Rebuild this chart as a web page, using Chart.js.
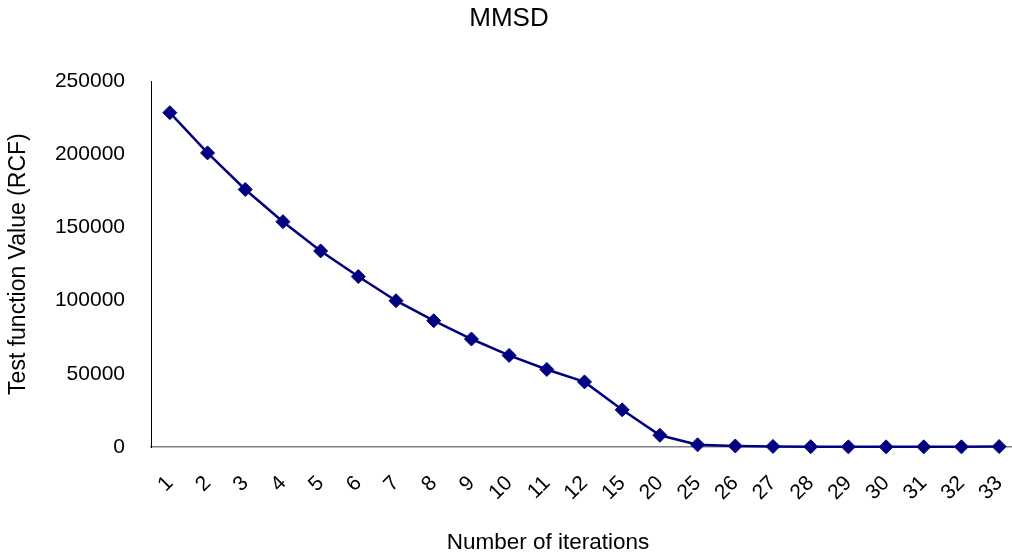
<!DOCTYPE html>
<html>
<head>
<meta charset="utf-8">
<script src="https://cdn.jsdelivr.net/npm/chart.js@4.4.1/dist/chart.umd.min.js"></script>
<style>
  html, body { margin: 0; padding: 0; overflow: hidden; background: #fff; }
  canvas { display: block; }
</style>
</head>
<body>
<canvas id="mmsdChart" width="1020" height="558"></canvas>
<script>
const iterations = ["1", "2", "3", "4", "5", "6", "7", "8", "9", "10", "11", "12",
  "15", "20", "25", "26", "27", "28", "29", "30", "31", "32", "33"];

const rcfValues = [228500, 201000, 176000, 154000, 134000, 116500, 100000, 86300,
  73800, 62600, 53000, 44500, 25400, 8000, 1500, 700, 400, 200, 100, 100, 100, 100, 300];

const yTicks = [0, 50000, 100000, 150000, 200000, 250000];

const FONT = "'Liberation Sans', Arial, sans-serif";

// x axis title sits left of the plot centre in the original
const xTitlePlugin = {
  id: "xTitle",
  afterDraw(chart) {
    const c = chart.ctx;
    c.save();
    c.font = "22.5px " + FONT;
    c.fillStyle = "#000";
    c.textAlign = "center";
    c.textBaseline = "middle";
    c.fillText("Number of iterations", 548, 543);
    c.restore();
  },
};

const ctx = document.getElementById("mmsdChart");

new Chart(ctx, {
  type: "line",
  data: {
    labels: iterations,
    datasets: [
      {
        label: "MMSD",
        data: rcfValues,
        borderColor: "#000080",
        backgroundColor: "#000080",
        borderWidth: 2.5,
        pointStyle: "rectRot",
        pointRadius: 7,
        pointBorderWidth: 1,
        pointBackgroundColor: "#000080",
        pointBorderColor: "#000080",
        tension: 0,
        clip: false,
      },
    ],
  },
  options: {
    responsive: false,
    animation: false,
    devicePixelRatio: 1,
    layout: { autoPadding: false, padding: { left: 0, right: 2, top: 0, bottom: 0 } },
    plugins: {
      legend: { display: false },
      tooltip: { enabled: false },
      title: {
        display: true,
        text: "MMSD",
        color: "#000",
        font: { family: FONT, size: 26, weight: "normal" },
        padding: { top: 3, bottom: 47 },
      },
    },
    scales: {
      x: {
        type: "category",
        offset: true,
        grid: { display: false, drawTicks: false },
        border: { display: true, color: "#808080", width: 1.5 },
        ticks: {
          color: "#000",
          font: { family: FONT, size: 21 },
          autoSkip: false,
          minRotation: 45,
          maxRotation: 45,
          padding: 24,
        },
        afterFit(scale) {
          scale.height = 111;
          scale.paddingLeft = 0;
          scale.paddingRight = 0;
        },
      },
      y: {
        min: 0,
        max: 250000,
        grid: { display: false, drawTicks: false },
        border: { display: true, color: "#000", width: 1 },
        afterBuildTicks(scale) {
          scale.ticks = yTicks.map((v) => ({ value: v }));
        },
        ticks: {
          color: "#000",
          font: { family: FONT, size: 21 },
          padding: 26,
          callback: (value) => String(value),
        },
        title: {
          display: true,
          text: "Test function Value (RCF)",
          color: "#000",
          font: { family: FONT, size: 23 },
          padding: { top: 5, bottom: 0 },
        },
        afterFit(scale) {
          scale.width = 151;
        },
      },
    },
  },
  plugins: [xTitlePlugin],
});
</script>
</body>
</html>
